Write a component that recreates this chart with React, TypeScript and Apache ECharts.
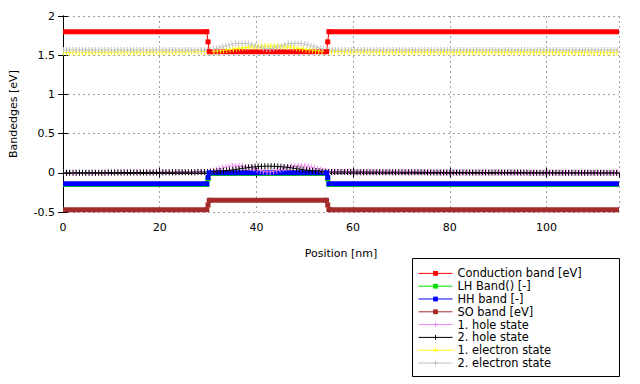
import React, { useEffect, useRef } from 'react';
import * as echarts from 'echarts';

// Band edges (piecewise constant, with one intermediate point at each interface)
const xBand = [0, 29.75, 30, 30.25, 54.5, 54.75, 55, 115];
const conductionBand = [1.8, 1.8, 1.67, 1.545, 1.545, 1.67, 1.8, 1.8];
const lhBand = [-0.15, -0.15, -0.08, -0.01, -0.01, -0.08, -0.15, -0.15];
const hhBand = [-0.14, -0.14, -0.06, 0.0, 0.0, -0.06, -0.14, -0.14];
const soBand = [-0.47, -0.47, -0.41, -0.35, -0.35, -0.41, -0.47, -0.47];

// States
const xHole1 = [0, 30, 32, 34, 35.5, 37, 39, 41, 42.5, 44, 46, 48, 49.5, 51, 53, 55, 115];
const hole1 = [0, 0.015, 0.045, 0.075, 0.088, 0.085, 0.06, 0.025, 0.01, 0.025, 0.06, 0.085, 0.088, 0.075, 0.045, 0.015, 0];
const xHole2 = [0, 30, 32, 34, 36, 38, 40, 42.5, 45, 47, 49, 51, 53, 55, 115];
const hole2 = [0, 0.01, 0.02, 0.03, 0.045, 0.065, 0.078, 0.085, 0.078, 0.065, 0.045, 0.03, 0.02, 0.01, 0];
const xEl1 = [0, 30, 33, 36, 39, 42.5, 46, 49, 52, 55, 115];
const el1 = [1.535, 1.545, 1.56, 1.585, 1.605, 1.615, 1.605, 1.585, 1.56, 1.545, 1.535];
const xEl2 = [0, 30, 32, 34, 36, 38, 40, 42.5, 45, 47, 49, 51, 53, 55, 115];
const el2 = [1.565, 1.565, 1.59, 1.625, 1.65, 1.65, 1.615, 1.58, 1.615, 1.65, 1.65, 1.625, 1.59, 1.565, 1.565];

const names = [
  'Conduction band [eV]',
  'LH Band() [-]',
  'HH band [-]',
  'SO band [eV]',
  '1. hole state',
  '2. hole state',
  '1. electron state',
  '2. electron state',
];

const FONT = 'DejaVu Sans';
const PLUS = 'path://M4,0H6V4H10V6H6V10H4V6H0V4H4Z';

function pt(xs: number[], ys: number[], i: number) {
  return [xs[i], ys[i]];
}

function bandSeries(name: string, ys: number[], color: string): any[] {
  const gap = [0, '-'];
  const thick = [
    pt(xBand, ys, 0), pt(xBand, ys, 1), gap,
    pt(xBand, ys, 3), pt(xBand, ys, 4), gap,
    pt(xBand, ys, 6), pt(xBand, ys, 7),
  ];
  const step = [
    pt(xBand, ys, 1), pt(xBand, ys, 2), pt(xBand, ys, 3), gap,
    pt(xBand, ys, 4), pt(xBand, ys, 5), pt(xBand, ys, 6),
  ];
  return [
    {
      name, type: 'line', data: thick, connectNulls: false,
      symbol: 'rect', symbolSize: 5, showSymbol: false,
      lineStyle: { color, width: 5, cap: 'butt' }, itemStyle: { color },
      silent: true,
    },
    {
      name, type: 'line', data: step, connectNulls: false,
      symbol: 'rect', symbolSize: 5, showSymbol: true,
      lineStyle: { color, width: 1 }, itemStyle: { color },
      silent: true,
    },
  ];
}

function stateSeries(name: string, xs: number[], ys: number[], color: string): any[] {
  const data = xs.map((x, i) => [x, ys[i]]);
  return [
    {
      name, type: 'line', data, smooth: 0.3,
      symbol: PLUS, symbolSize: 7, showSymbol: false,
      lineStyle: { color, width: 1 }, itemStyle: { color },
      silent: true,
    },
    {
      name, type: 'line', data, smooth: 0.3,
      symbol: 'none',
      lineStyle: { color, width: 6, type: [1, 2.2], cap: 'butt' }, itemStyle: { color },
      silent: true,
    },
  ];
}

export default function App() {
  const ref = useRef<HTMLDivElement>(null);
  useEffect(() => {
    if (!ref.current) return;
    const chart = echarts.init(ref.current, null, { renderer: 'svg' });
    const gridLine = { show: true, lineStyle: { color: '#a0a0a0', width: 1, type: [2, 3] } };
    const axisCommon = {
      axisLine: { show: true, lineStyle: { color: '#000', width: 1 } },
      axisTick: { show: true, inside: true, length: 5, lineStyle: { color: '#000' } },
    };
    chart.setOption({
      animation: false,
      backgroundColor: '#fff',
      textStyle: { fontFamily: FONT },
      grid: { left: 63, top: 16, width: 556, height: 196, containLabel: false },
      xAxis: [
        {
          type: 'value', min: 0, max: 115, interval: 20, position: 'bottom',
          ...axisCommon,
          splitLine: gridLine,
          axisLabel: { color: '#000', fontFamily: FONT, fontSize: 11, margin: 10, showMaxLabel: false },
          name: 'Position [nm]', nameLocation: 'middle', nameGap: 36,
          nameTextStyle: { color: '#000', fontFamily: FONT, fontSize: 11 },
        },
        {
          type: 'value', min: 0, max: 115, interval: 20, position: 'top',
          ...axisCommon, splitLine: { show: false }, axisLabel: { show: false },
        },
      ],
      yAxis: [
        {
          type: 'value', min: -0.5, max: 2, interval: 0.5, position: 'left',
          ...axisCommon,
          splitLine: gridLine,
          axisLabel: { color: '#000', fontFamily: FONT, fontSize: 11, margin: 8 },
          name: 'Bandedges [eV]', nameLocation: 'middle', nameGap: 44, nameRotate: 90,
          nameTextStyle: { color: '#000', fontFamily: FONT, fontSize: 11 },
        },
        {
          type: 'value', min: -0.5, max: 2, interval: 0.5, position: 'right',
          ...axisCommon, splitLine: { show: false }, axisLabel: { show: false },
        },
      ],
      legend: {
        data: names,
        orient: 'vertical',
        left: 418, top: 267, padding: 0,
        itemWidth: 34, itemHeight: 6, itemGap: 0,
        lineStyle: { width: 1 },
        textStyle: { color: '#000', fontFamily: FONT, fontSize: 11.4, lineHeight: 12.8 },
        selectedMode: false,
      },
      graphic: [
        {
          type: 'rect',
          shape: { x: 412.5, y: 258.5, width: 207, height: 118 },
          style: { fill: 'none', stroke: '#000', lineWidth: 1 },
          silent: true,
        },
      ],
      series: [
        ...bandSeries(names[0], conductionBand, '#ff0000'),
        ...bandSeries(names[1], lhBand, '#00e000'),
        ...bandSeries(names[2], hhBand, '#0000ff'),
        ...bandSeries(names[3], soBand, '#a52a2a'),
        ...stateSeries(names[4], xHole1, hole1, '#ee82ee'),
        ...stateSeries(names[5], xHole2, hole2, '#000000'),
        ...stateSeries(names[6], xEl1, el1, '#ffff00'),
        ...stateSeries(names[7], xEl2, el2, '#c0c0c0'),
      ],
    });
    return () => chart.dispose();
  }, []);
  return (
    <div
      ref={ref}
      style={{ position: 'fixed', left: 0, top: 0, width: 640, height: 384, background: '#fff' }}
    />
  );
}
